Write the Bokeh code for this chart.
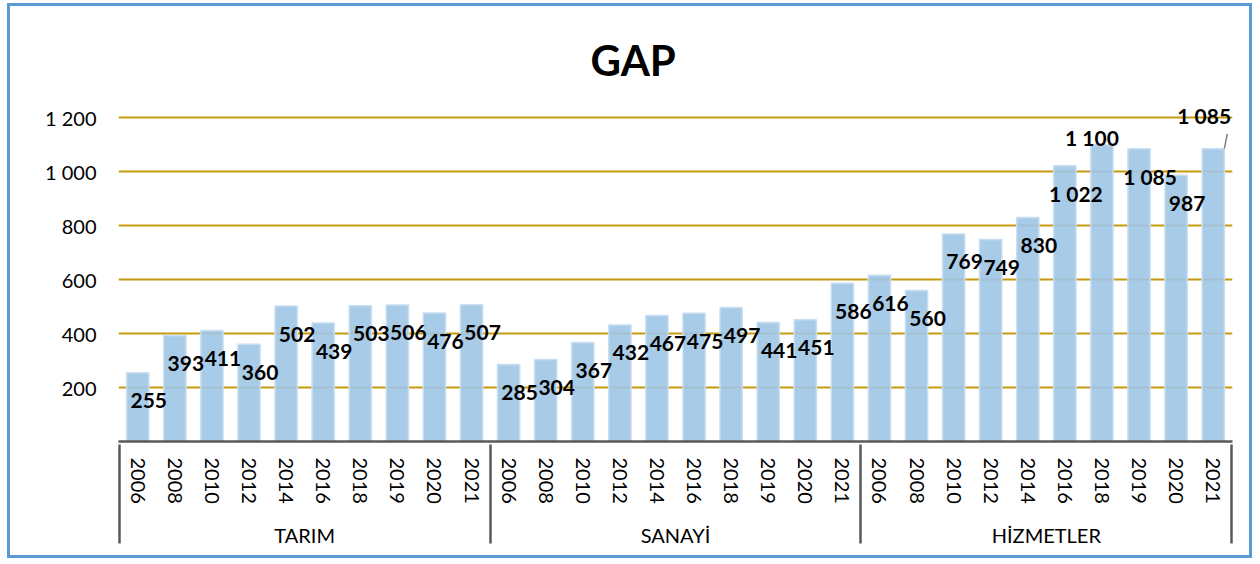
from bokeh.plotting import figure
from bokeh.models import FactorRange, FixedTicker, ColumnDataSource, Range1d, Label, LabelSet
from bokeh.core.properties import value
from bokeh.embed import file_html
from bokeh.resources import INLINE

sectors = ["TARIM", "SANAYİ", "HİZMETLER"]
years = ["2006", "2008", "2010", "2012", "2014", "2016", "2018", "2019", "2020", "2021"]
tarim = [255, 393, 411, 360, 502, 439, 503, 506, 476, 507]
sanayi = [285, 304, 367, 432, 467, 475, 497, 441, 451, 586]
hizmetler = [616, 560, 769, 749, 830, 1022, 1100, 1085, 987, 1085]
y_ticks = [200, 400, 600, 800, 1000, 1200]
y_tick_labels = ["200", "400", "600", "800", "1 000", "1 200"]

series = [tarim, sanayi, hizmetler]
factors = [(s, y) for s in sectors for y in years]
vals = [v for ser in series for v in ser]
labels = [f"{v:,}".replace(",", " ") for v in vals]

FONT = "Lato"

# blank edge slots, almost fully trimmed by negative padding, so that the
# axis also draws group separators at both outer ends
edge_l, edge_r = (" ", " "), ("  ", "  ")
xr = FactorRange(*([edge_l] + factors + [edge_r]), range_padding=-0.98,
                 range_padding_units="absolute", group_padding=0, factor_padding=0)

p = figure(width=1245, height=555, output_backend="svg", toolbar_location=None,
           x_range=xr, y_range=Range1d(0, 1260),
           min_border_left=108, min_border_right=23, min_border_top=95, min_border_bottom=120)
p.styles = {"border": "3px solid #5b9bd5", "margin-left": "7px", "margin-top": "3px"}
p.outline_line_color = None
p.background_fill_color = "white"
p.border_fill_color = "white"

p.title.text = "GAP"
p.title.align = "left"
p.title.offset = 472
p.title.vertical_align = "top"
p.title.text_font = FONT
p.title.text_font_size = "42px"
p.title.text_font_style = "bold"
p.title.text_color = "black"
p.title.standoff = 30

src = ColumnDataSource(dict(x=factors, top=vals, label=labels))
p.vbar(x="x", top="top", width=0.6, source=src, fill_color="#9fc5e5", fill_alpha=0.9,
       line_color="#c9def1", line_width=1.5)

# labels: regular ones inside top of bar
n = len(vals)
last = n - 1
special = {26: (-10, 7)}
reg = [i for i in range(n) if i not in special and i != last]
rsrc = ColumnDataSource(dict(x=[factors[i] for i in reg], y=[vals[i] for i in reg],
                             t=[labels[i] for i in reg]))
p.text(x="x", y="y", text="t", source=rsrc, x_offset=11, y_offset=28,
       text_align="center", text_baseline="middle", text_font=value(FONT),
       text_font_size="21px", text_font_style="bold", text_color="black")
for i, (dx, dy) in special.items():
    s = ColumnDataSource(dict(x=[factors[i]], y=[vals[i]], t=[labels[i]]))
    p.add_layout(LabelSet(x="x", y="y", text="t", source=s, x_offset=dx, y_offset=dy,
                          text_align="center", text_baseline="middle",
                          text_font=value(FONT), text_font_size="21px",
                          text_font_style="bold", text_color="black"))

# last label sits above its bar (synthetic x: one blank edge slot precedes the data)
p.add_layout(Label(x=last + 1.5, y=vals[last], text=labels[last], x_offset=-9, y_offset=33,
                   text_align="center", text_baseline="middle",
                   text_font=FONT, text_font_size="21px",
                   text_font_style="bold", text_color="black"))

# leader line for last label
lf = factors[last]
p.segment(x0=[(lf[0], lf[1], 0.3)], y0=[vals[last]], x1=[(lf[0], lf[1], 0.38)],
          y1=[vals[last] + 55], line_color="#7f7f7f", line_width=1.5)

# grid
p.xgrid.grid_line_color = None
p.ygrid.ticker = FixedTicker(ticks=y_ticks)
p.ygrid.grid_line_color = "#c59a0f"
p.ygrid.grid_line_width = 2

# y axis
p.yaxis.ticker = FixedTicker(ticks=y_ticks)
p.yaxis.major_label_overrides = {t: l for t, l in zip(y_ticks, y_tick_labels)}
p.yaxis.axis_line_color = None
p.yaxis.major_tick_line_color = None
p.yaxis.minor_tick_line_color = None
p.yaxis.major_tick_out = 0
p.yaxis.major_label_standoff = 22
p.yaxis.major_label_text_font = FONT
p.yaxis.major_label_text_font_size = "20px"
p.yaxis.major_label_text_color = "black"

# x axis
xa = p.xaxis[0]
xa.axis_line_color = "#595959"
xa.axis_line_width = 2.5
xa.major_tick_line_color = None
xa.major_tick_out = 0
xa.major_label_orientation = "vertical"
xa.major_label_standoff = 16
xa.major_label_text_font = FONT
xa.major_label_text_font_size = "20px"
xa.major_label_text_color = "black"
xa.group_text_font = FONT
xa.group_text_font_size = "20px"
xa.group_text_font_style = "normal"
xa.group_text_color = "black"
xa.separator_line_color = "#595959"
xa.separator_line_width = 2.5

open("out.html", "w").write(file_html(p, INLINE))
